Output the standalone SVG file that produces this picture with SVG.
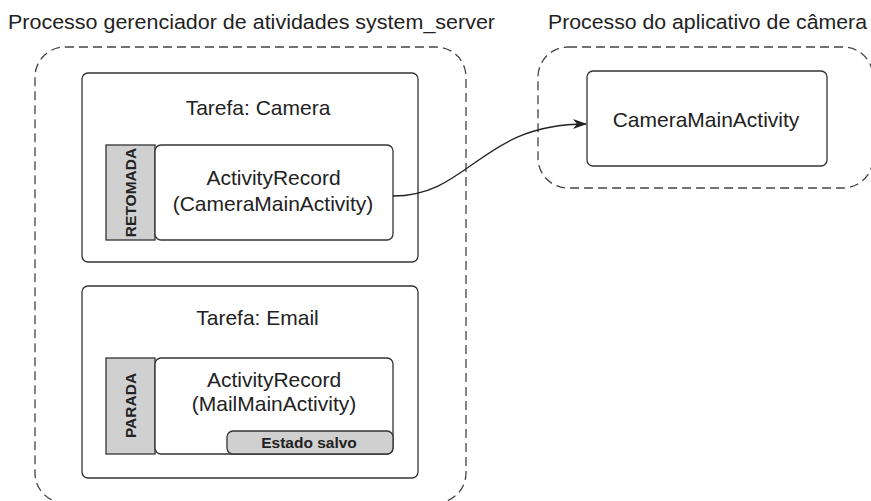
<svg xmlns="http://www.w3.org/2000/svg" width="871" height="501" viewBox="0 0 871 501">
<defs>
<style>
text{font-family:"Liberation Sans",Arial,sans-serif;fill:#222}
.title{font-size:20.5px}
.lbl{font-size:21px;text-anchor:middle}
.state{font-size:15.5px;font-weight:bold;text-anchor:middle}
.dash{fill:none;stroke:#444;stroke-width:1.3;stroke-dasharray:9 5}
.box{fill:#fff;stroke:#333;stroke-width:1.3}
.tab{fill:#d0d0d0;stroke:#333;stroke-width:1.3}
.conn{fill:none;stroke:#222;stroke-width:1.3}
</style>
<marker id="arr" viewBox="0 0 14 10" refX="13" refY="5" markerWidth="14" markerHeight="10" markerUnits="userSpaceOnUse" orient="auto">
<path d="M0,0 L14,5 L0,10 L4,5 Z" fill="#222"/>
</marker>
</defs>
<text class="title" x="8" y="29" textLength="487" lengthAdjust="spacingAndGlyphs">Processo gerenciador de atividades system_server</text>
<text class="title" x="548" y="29" textLength="319" lengthAdjust="spacingAndGlyphs">Processo do aplicativo de câmera</text>
<g id="system_server">
<rect class="dash" x="35" y="47" width="431" height="456" rx="30"/>
</g>
<g id="camera_process">
<rect class="dash" x="538" y="47" width="335" height="141" rx="30"/>
</g>
<g id="task_camera">
<rect class="box" x="82" y="73" width="336" height="189" rx="6"/>
<text class="lbl" x="258" y="115">Tarefa: Camera</text>
</g>
<g id="record_camera">
<rect class="tab" x="106" y="145" width="49" height="95"/>
<rect class="box" x="155" y="145" width="238" height="95" rx="6"/>
<text class="state" transform="translate(136 192.5) rotate(-90)">RETOMADA</text>
<text class="lbl" x="273.5" y="185">ActivityRecord</text>
<text class="lbl" x="273" y="211">(CameraMainActivity)</text>
</g>
<g id="task_email">
<rect class="box" x="82" y="286" width="336" height="192" rx="6"/>
<text class="lbl" x="257.5" y="325">Tarefa: Email</text>
</g>
<g id="record_email">
<rect class="tab" x="106" y="358" width="49" height="96"/>
<rect class="box" x="155" y="358" width="238" height="96" rx="6"/>
<text class="state" transform="translate(136 405.5) rotate(-90)">PARADA</text>
<text class="lbl" x="274" y="387">ActivityRecord</text>
<text class="lbl" x="274" y="411">(MailMainActivity)</text>
<rect class="tab" x="227" y="431" width="166" height="23" rx="6"/>
<text class="state" x="309" y="448">Estado salvo</text>
</g>
<g id="camera_main">
<rect class="box" x="587" y="71" width="240" height="95" rx="6"/>
<text class="lbl" x="706" y="127">CameraMainActivity</text>
</g>
<g id="connectors">
<path class="conn" d="M393,196 C470,196 480,124 586,124" marker-end="url(#arr)"/>
</g>
</svg>
